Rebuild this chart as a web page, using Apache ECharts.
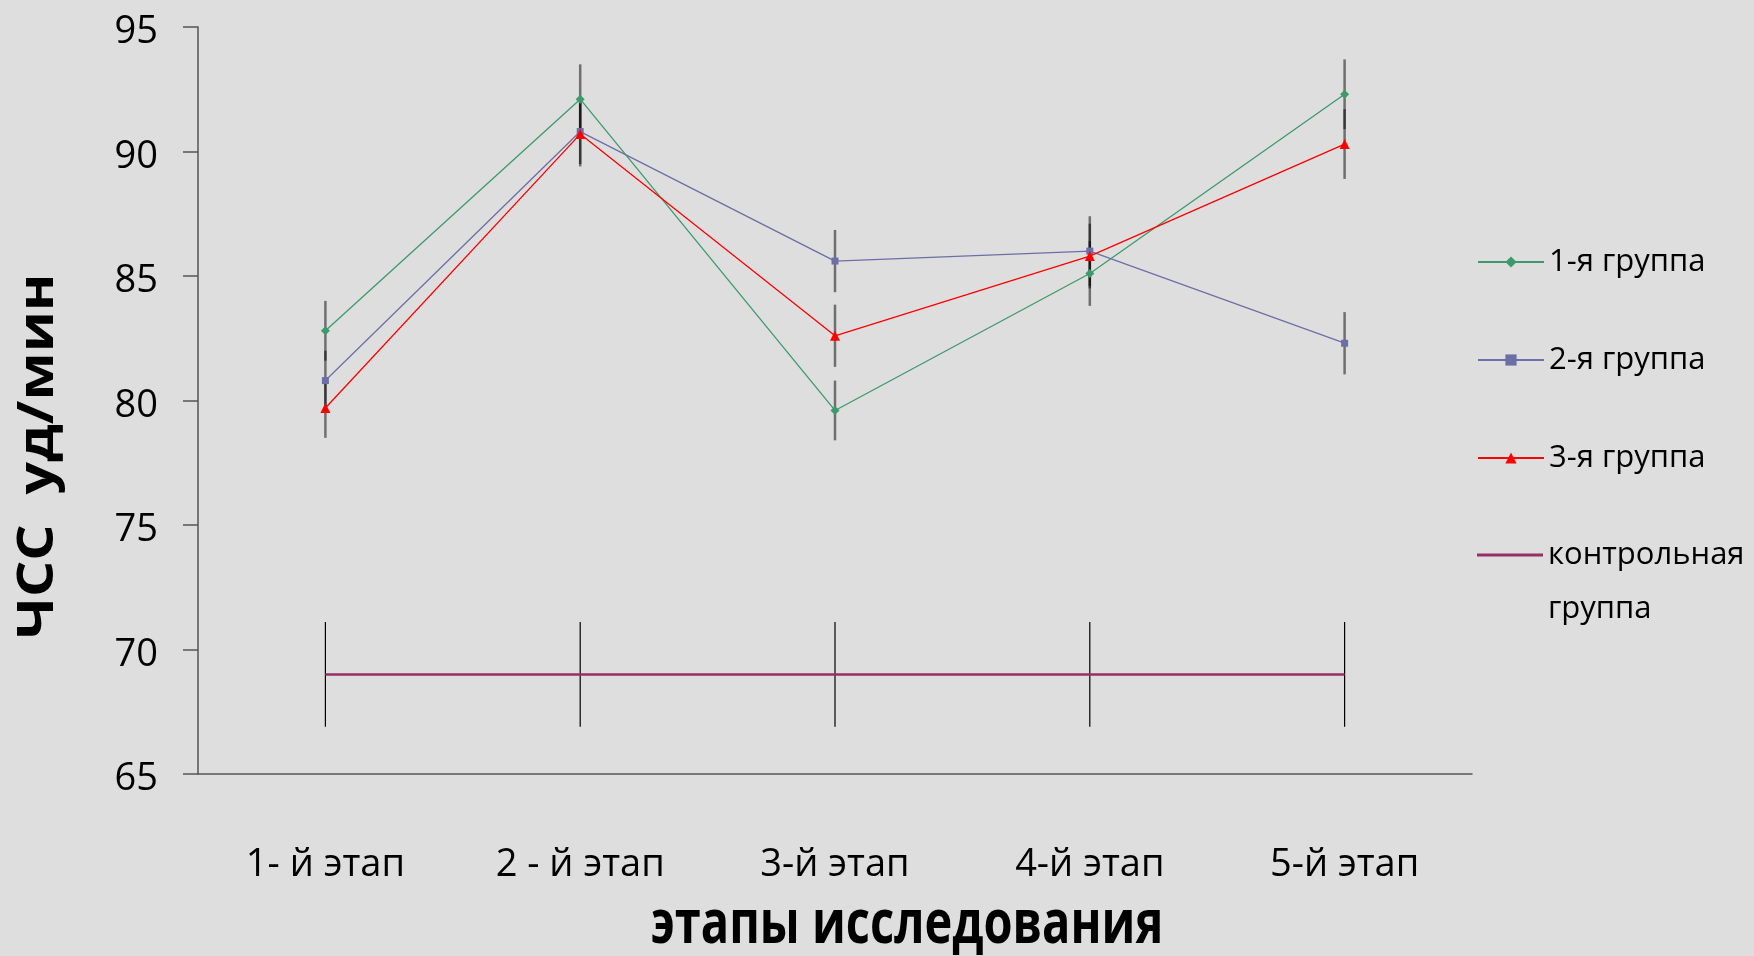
<!DOCTYPE html>
<html>
<head>
<meta charset="utf-8">
<script src="https://cdn.jsdelivr.net/npm/echarts@6/dist/echarts.min.js"></script>
<style>
  html, body { margin: 0; padding: 0; background: #dedede; }
  #chart { width: 1754px; height: 956px; }
</style>
</head>
<body>
<div id="chart"></div>
<script>
// этапы и значения ЧСС по группам
const stages = ['1- й этап', '2 - й этап', '3-й этап', '4-й этап', '5-й этап'];
const yTicks = [65, 70, 75, 80, 85, 90, 95];

const group1 = [82.8, 92.1, 79.6, 85.1, 92.3];
const group2 = [80.8, 90.8, 85.6, 86.0, 82.3];
const group3 = [79.7, 90.7, 82.6, 85.8, 90.3];
const control = [69, 69, 69, 69, 69];

const err1 = [1.2, 1.4, 1.2, 1.3, 1.4];
const err2 = [1.2, 1.3, 1.25, 1.4, 1.25];
const err3 = [1.2, 1.3, 1.25, 1.3, 1.4];
const errControl = [2.1, 2.1, 2.1, 2.1, 2.1];

const names = ['1-я группа', '2-я группа', '3-я группа', 'контрольная группа'];

const FONT = "'Open Sans', sans-serif";

var chartDom = document.getElementById('chart');
var myChart = echarts.init(chartDom);

function errData(means, errs) {
  return means.map(function (m, i) { return [i, m - errs[i], m + errs[i]]; });
}

function errSeries(means, errs, color, width) {
  return {
    type: 'custom',
    z: 1,
    silent: true,
    data: errData(means, errs),
    renderItem: function (params, api) {
      var lo = api.coord([api.value(0), api.value(1)]);
      var hi = api.coord([api.value(0), api.value(2)]);
      return {
        type: 'line',
        shape: { x1: lo[0], y1: lo[1], x2: hi[0], y2: hi[1] },
        style: { stroke: color, lineWidth: width }
      };
    }
  };
}

var legendText = { color: '#000', fontFamily: FONT, fontSize: 31, lineHeight: 54 };

var option = {
  backgroundColor: '#dedede',
  animation: false,
  grid: { left: 198, right: 282, top: 27, bottom: 182 },
  xAxis: {
    type: 'category',
    data: stages,
    boundaryGap: true,
    axisLine: { lineStyle: { color: '#555', width: 1.5 } },
    axisTick: { show: false },
    axisLabel: { interval: 0, color: '#000', fontFamily: FONT, fontSize: 38, margin: 72 }
  },
  yAxis: {
    type: 'value',
    min: yTicks[0],
    max: yTicks[yTicks.length - 1],
    interval: 5,
    splitLine: { show: false },
    axisLine: { show: true, lineStyle: { color: '#555', width: 1.5 } },
    axisTick: { show: true, inside: false, length: 15, lineStyle: { color: '#555', width: 1.5 } },
    axisLabel: {
      margin: 40,
      formatter: '{v|{value}}',
      rich: { v: { color: '#000', fontFamily: FONT, fontSize: 38, padding: [11, 0, 0, 0] } }
    }
  },
  legend: [
    {
      orient: 'vertical',
      left: 1477,
      top: 235,
      padding: 0,
      itemWidth: 66,
      itemHeight: 14,
      itemGap: 44,
      data: names.slice(0, 3),
      textStyle: legendText
    },
    {
      orient: 'vertical',
      left: 1477,
      top: 474,
      padding: 0,
      itemWidth: 66,
      itemHeight: 3,
      data: [{ name: names[3], icon: 'rect' }],
      formatter: function () { return '\u00a0\nконтрольная\nгруппа'; },
      textStyle: legendText
    }
  ],
  graphic: [
    {
      type: 'text',
      x: 38,
      y: 456,
      rotation: Math.PI / 2,
      scaleX: 1.12,
      style: {
        text: 'ЧСС  уд/мин',
        font: "bold 51px " + FONT,
        fill: '#000',
        textAlign: 'center',
        textVerticalAlign: 'middle'
      }
    },
    {
      type: 'text',
      x: 907,
      y: 926,
      scaleY: 1.3,
      style: {
        text: 'этапы исследования',
        font: "bold 47px " + FONT,
        fill: '#000',
        textAlign: 'center',
        textVerticalAlign: 'middle'
      }
    }
  ],
  series: [
    errSeries(group1, err1, 'rgba(0,0,0,0.5)', 2.5),
    errSeries(group2, err2, 'rgba(0,0,0,0.5)', 2.5),
    errSeries(group3, err3, 'rgba(0,0,0,0.5)', 2.5),
    errSeries(control, errControl, '#000', 1.2),
    {
      name: names[3],
      type: 'line',
      z: 3,
      data: control,
      symbol: 'none',
      itemStyle: { color: '#963064' },
      lineStyle: { color: '#963064', width: 2.5 }
    },
    {
      name: names[0],
      type: 'line',
      z: 4,
      data: group1,
      symbol: 'diamond',
      symbolSize: 9,
      itemStyle: { color: '#3d9a6c' },
      lineStyle: { color: '#3d9a6c', width: 1.3 }
    },
    {
      name: names[1],
      type: 'line',
      z: 4,
      data: group2,
      symbol: 'rect',
      symbolSize: 7,
      itemStyle: { color: '#6e6ea6' },
      lineStyle: { color: '#6e6ea6', width: 1.3 }
    },
    {
      name: names[2],
      type: 'line',
      z: 5,
      data: group3,
      symbol: 'triangle',
      symbolSize: 10,
      itemStyle: { color: '#ff0000' },
      lineStyle: { color: '#ff0000', width: 1.3 }
    }
  ]
};

option && myChart.setOption(option);
</script>
</body>
</html>
